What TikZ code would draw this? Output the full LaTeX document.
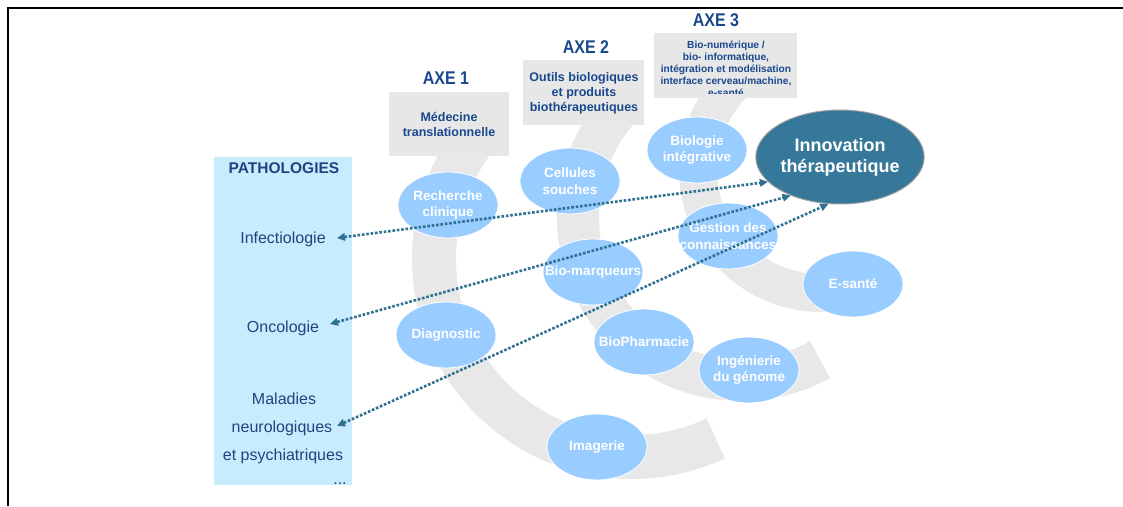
\documentclass[tikz,border=0pt]{standalone}
\usepackage{fontspec}
\setmainfont{Liberation Sans}
\usepackage{graphicx}
\usetikzlibrary{shapes.geometric,arrows.meta}
\definecolor{bandgray}{RGB}{232,232,232}
\definecolor{boxgray}{RGB}{231,231,231}
\definecolor{pathblue}{RGB}{200,235,253}
\definecolor{ellblue}{RGB}{153,204,255}
\definecolor{innovteal}{RGB}{54,120,153}
\definecolor{navy}{RGB}{26,72,140}
\definecolor{pathtext}{RGB}{32,68,128}
\definecolor{conncol}{RGB}{46,113,145}
\begin{document}
\begin{tikzpicture}[x=1pt,y=1pt,
  band/.style={draw=bandgray, line width=44pt},
  axebox/.style={fill=boxgray, draw=none, inner sep=0pt},
  axelbl/.style={font=\fontsize{16}{18}\selectfont\bfseries, text=navy, inner sep=0pt},
  boxtxt/.style={font=\fontsize{12.5}{15}\selectfont\bfseries, text=navy, align=center},
  smalltxt/.style={font=\fontsize{10.2}{12}\selectfont\bfseries, text=navy, align=center},
  bubble/.style={ellipse, fill=ellblue, draw=white, line width=0.8pt, minimum width=100pt, minimum height=66pt, inner sep=0pt},
  blbl/.style={font=\fontsize{13.5}{16.5}\selectfont\bfseries, text=white, align=center},
  ptxt/.style={font=\fontsize{16}{18}\selectfont, text=pathtext, text height=11pt, text depth=3pt, inner sep=0pt},
  conn/.style={draw=conncol, line width=2.6pt, dash pattern=on 2.6pt off 1.8pt,
    arrows={Triangle[length=8pt,width=7.5pt]-Triangle[length=8pt,width=7.5pt]}}
]
\useasboundingbox (0,0) rectangle (1123,-506);
% frame
\draw[line width=2pt] (8,-506) -- (8,-7.5) -- (1123,-7.5);

% gray bands
\draw[band] (632,-259) ++(140:198pt) arc[start angle=140, end angle=295, radius=198pt];
\draw[band, line width=42pt] (741,-217) ++(135:163pt) arc[start angle=135, end angle=299, radius=163pt];
\draw[band, line width=38pt] (821,-170) ++(130:123pt) arc[start angle=130, end angle=301, radius=123pt];

% axis boxes and labels
\node[axelbl] (axe1) at (446,-78) {\scalebox{1}[1.15]{AXE 1}};
\node[axelbl] (axe2) at (586,-47) {\scalebox{1}[1.15]{AXE 2}};
\node[axelbl] (axe3) at (716,-20) {\scalebox{1}[1.15]{AXE 3}};

\node[axebox, minimum width=120pt, minimum height=64pt] (box1) at (449,-124) {};
\node[boxtxt] (txt1) at (449,-124.5) {Médecine\\translationnelle};

\node[axebox, minimum width=121pt, minimum height=65pt] (box2) at (583.5,-92.5) {};
\node[boxtxt] (txt2) at (584,-93) {Outils biologiques\\et produits\\biothérapeutiques};

\node[axebox, minimum width=143pt, minimum height=65pt] (box3) at (725.5,-65.5) {};
\begin{scope}
  \clip (box3.north west) rectangle ([yshift=4.5pt]box3.south east);
  \node[smalltxt] (txt3) at (726,-68.5) {Bio-numérique /\\bio- informatique,\\intégration et modélisation\\interface cerveau/machine,\\e-santé};
\end{scope}

% pathologies
\node[fill=pathblue, draw=none, minimum width=138pt, minimum height=328pt, inner sep=0pt] (pbox) at (283,-321) {};
\node[font=\fontsize{15.5}{18}\selectfont\bfseries, text=pathtext, inner sep=0pt] (ptitle) at (284,-168) {PATHOLOGIES};
\node[ptxt] (infect) at (283,-239) {Infectiologie};
\node[ptxt] (onco) at (283,-328) {Oncologie};
\node[ptxt] (mal) at (284,-400) {Maladies};
\node[ptxt] (neuro) at (282,-428) {neurologiques};
\node[ptxt] (psy) at (283,-456) {et psychiatriques};
\node[ptxt] (etc) at (340,-480) {...};

% bubbles
\node[bubble, label={[blbl]center:{Recherche\\clinique}}] (rc) at (448,-205) {};
\node[bubble, label={[blbl]center:{Diagnostic}}] (diag) at (446,-335) {};
\node[bubble, label={[blbl]center:{Cellules\\souches}}] (cell) at (570,-181) {};
\node[bubble, label={[blbl]center:{Biologie\\intégrative}}] (bioint) at (697,-150) {};
\node[bubble, label={[blbl]center:{Gestion des\\connaissances}}] (gest) at (728,-236) {};
\node[bubble, label={[blbl]center:{Bio-marqueurs}}] (biom) at (593,-272) {};
\node[bubble, label={[blbl]center:{E-santé}}] (esante) at (853,-284) {};
\node[bubble, label={[blbl]center:{BioPharmacie}}] (biopharm) at (644,-342) {};
\node[bubble, label={[blbl]center:{Ingénierie\\du génome}}] (ingen) at (749,-370) {};
\node[bubble, label={[blbl]center:{Imagerie}}] (imag) at (597,-447) {};

\node[ellipse, fill=innovteal, draw=gray!75, line width=1pt, minimum width=138pt, minimum height=94pt, inner sep=0pt,
  font=\fontsize{18}{21}\selectfont\bfseries, text=white, align=center] (innov) at (840,-157) {Innovation\\thérapeutique};

% connectors
\coordinate (pI) at (337,-238);
\coordinate (pO) at (330,-324);
\coordinate (pM) at (337,-426);
\draw[conn] (pI) -- (innov.199);
\draw[conn] (pO) -- (innov.218);
\draw[conn] (pM) -- (innov.256);
\end{tikzpicture}
\end{document}
